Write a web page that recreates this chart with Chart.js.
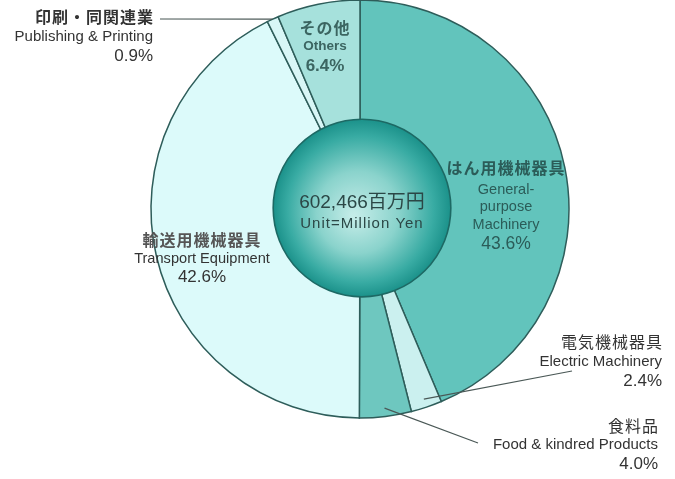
<!DOCTYPE html>
<html>
<head>
<meta charset="utf-8">
<script src="https://cdn.jsdelivr.net/npm/chart.js@4.4.1/dist/chart.umd.min.js"></script>
<style>
  html, body { margin: 0; padding: 0; background: #ffffff; }
  #wrap { position: relative; width: 675px; height: 479px; }
  canvas { display: block; }
</style>
</head>
<body>
<div id="wrap"><canvas id="c" width="675" height="479"></canvas></div>
<script>
// ---- data ----
const categories = ['はん用機械器具', '電気機械器具', '食料品', '輸送用機械器具', '印刷・同関連業', 'その他'];
const englishLabels = [
  ['General-', 'purpose', 'Machinery'],
  ['Electric Machinery'],
  ['Food & kindred Products'],
  ['Transport Equipment'],
  ['Publishing & Printing'],
  ['Others']
];
const shares = [43.6, 2.4, 4.0, 42.6, 0.9, 6.4];
const totalLabel = '602,466百万円';
const unitLabel = 'Unit=Million Yen';

// ---- styles ----
const sliceColors = ['#62c4bc', '#cbf0ef', '#6ec7bf', '#dcfafa', '#d8f6f6', '#a6e1dc'];
const edgeColor = '#2e5d5a';
const LATIN = '"Liberation Sans", "Noto Sans CJK JP", sans-serif';
const CJK = '"Noto Sans CJK JP", sans-serif';

// label layout per slice index: anchor x, alignment, line y positions, colours
const labelLayout = {
  0: { x: 506, align: 'center', color: '#2b5c58', cjkY: 168, engY: [190, 207, 225], pctY: 244, bold: false, cjkBold: true, engSize: 14.5, pctSize: 17.5 },
  1: { x: 662, align: 'right', color: '#333333', cjkY: 342, engY: [362], pctY: 381, bold: false, cjkBold: false, engSize: 15, pctSize: 17, leader: [572, 371], leaderR: 0.96 },
  2: { x: 658, align: 'right', color: '#333333', cjkY: 426, engY: [445], pctY: 464, bold: false, cjkBold: false, engSize: 15, pctSize: 17, leader: [478, 443], leaderR: 0.96 },
  3: { x: 202, align: 'center', color: '#333333', cjkColor: '#555555', cjkY: 240, engY: [259], pctY: 277, bold: false, cjkBold: true, engSize: 14.6, pctSize: 17 },
  4: { x: 153, align: 'right', color: '#333333', cjkY: 17, engY: [37], pctY: 56, bold: false, cjkBold: true, engSize: 15, pctSize: 17, leader: [160, 19], leaderR: 1.0 },
  5: { x: 325, align: 'center', color: '#3b6561', cjkY: 28, engY: [46], pctY: 66, bold: true, cjkBold: true, engSize: 13.5, pctSize: 17 }
};

const spherePlugin = {
  id: 'sphere',
  afterDatasetsDraw(chart) {
    const arc = chart.getDatasetMeta(0).data[0];
    const ctx = chart.ctx;
    const cx = arc.x + 2, cy = arc.y - 1;
    const r = arc.outerRadius * 0.425;
    ctx.save();
    const g = ctx.createRadialGradient(cx - 8, cy + 8, 2, cx, cy, r);
    g.addColorStop(0, '#c4ece8');
    g.addColorStop(0.45, '#8ad3cc');
    g.addColorStop(0.82, '#38aba3');
    g.addColorStop(1, '#1b918a');
    ctx.beginPath();
    ctx.arc(cx, cy, r, 0, Math.PI * 2);
    ctx.fillStyle = g;
    ctx.fill();
    ctx.lineWidth = 1.6;
    ctx.strokeStyle = '#1d6964';
    ctx.stroke();
    ctx.fillStyle = '#2b4746';
    ctx.textAlign = 'center';
    ctx.textBaseline = 'middle';
    ctx.font = '19px ' + LATIN;
    ctx.fillText(totalLabel, cx, cy - 5);
    ctx.font = '15px ' + LATIN;
    ctx.letterSpacing = '1px';
    ctx.fillText(unitLabel, cx, cy + 16);
    ctx.letterSpacing = '0px';
    ctx.restore();
  }
};

const labelPlugin = {
  id: 'sliceLabels',
  afterDraw(chart) {
    const meta = chart.getDatasetMeta(0);
    const ctx = chart.ctx;
    ctx.save();
    ctx.textBaseline = 'middle';
    meta.data.forEach((arc, i) => {
      const L = labelLayout[i];
      if (!L) return;
      // leader line from the slice to the label
      if (L.leader) {
        const mid = (arc.startAngle + arc.endAngle) / 2;
        const rr = arc.outerRadius * L.leaderR;
        const sx = arc.x + Math.cos(mid) * rr;
        const sy = arc.y + Math.sin(mid) * rr;
        ctx.beginPath();
        ctx.moveTo(sx, sy);
        ctx.lineTo(L.leader[0], L.leader[1]);
        ctx.lineWidth = 1.2;
        ctx.strokeStyle = '#4a5856';
        ctx.stroke();
      }
      ctx.textAlign = L.align;
      const w = L.bold ? 'bold ' : '';
      ctx.fillStyle = L.cjkColor || L.color;
      ctx.font = (L.cjkBold ? 'bold ' : '') + '16px ' + CJK;
      ctx.letterSpacing = '1px';
      ctx.fillText(categories[i], L.x + (L.align === 'right' ? 1 : 0), L.cjkY);
      ctx.letterSpacing = '0px';
      ctx.fillStyle = L.color;
      ctx.font = w + L.engSize + 'px ' + LATIN;
      englishLabels[i].forEach((t, k) => ctx.fillText(t, L.x, L.engY[k]));
      ctx.font = w + L.pctSize + 'px ' + LATIN;
      ctx.fillText(shares[i].toFixed(1) + '%', L.x, L.pctY);
    });
    ctx.restore();
  }
};

new Chart(document.getElementById('c'), {
  type: 'pie',
  data: {
    labels: categories,
    datasets: [{
      data: shares,
      backgroundColor: sliceColors,
      borderColor: edgeColor,
      borderWidth: 1.5,
      borderJoinStyle: 'miter'
    }]
  },
  options: {
    responsive: false,
    animation: false,
    radius: 209,
    layout: { padding: { left: 151, right: 106, top: 0, bottom: 61 } },
    plugins: { legend: { display: false }, tooltip: { enabled: false } }
  },
  plugins: [spherePlugin, labelPlugin]
});
</script>
</body>
</html>
